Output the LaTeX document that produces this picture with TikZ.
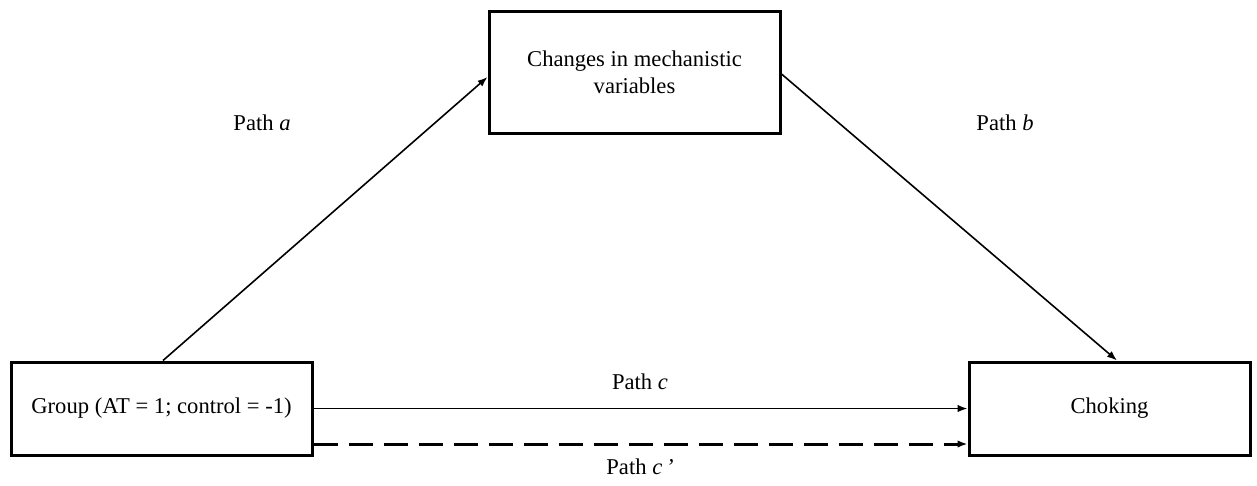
\documentclass[tikz,border=0pt]{standalone}
\usepackage{fontspec}
\setmainfont{Liberation Serif}
\usetikzlibrary{arrows.meta}
\begin{document}
\begin{tikzpicture}[x=1pt,y=-1pt,
  box/.style={draw,line width=3pt,align=center,inner sep=0pt,font=\fontsize{22.6}{27}\selectfont},
  lbl/.style={font=\fontsize{22.6}{27}\selectfont,inner sep=0pt},
  conn/.style={line width=1.6pt,-{Latex[length=10pt,width=7.5pt]}},
  dconn/.style={line width=3pt,dash pattern=on 24pt off 11pt,-{Latex[length=10pt,width=7.5pt]}}]
\useasboundingbox (0,0) rectangle (1257,485);
\node[box,minimum width=291pt,minimum height=122pt] (t) at (634.5,72) {Changes in mechanistic\\variables};
\node[box,minimum width=301pt,minimum height=93pt] (l) at (161.5,408.5) {Group (AT = 1; control = -1)};
\node[box,minimum width=281pt,minimum height=93pt] (r) at (1109.5,408.5) {Choking};
\draw[conn] ([xshift=1.5pt]l.north) -- ([yshift=-5pt]t.west);
\draw[conn] ([yshift=-2pt]t.east) -- ([xshift=7.5pt]r.north);
\draw[conn] (l.east) -- (r.west);
\draw[dconn] ([yshift=-35.5pt]l.east) -- ([yshift=-35.5pt]r.west);
\node[lbl] (la) at (262,123) {Path \textit{a}};
\node[lbl] (lb) at (1005,123) {Path \textit{b}};
\node[lbl] (lc) at (640,382) {Path \textit{c}};
\node[lbl] (lcp) at (640,467) {Path \textit{c\,’}};
\end{tikzpicture}
\end{document}
